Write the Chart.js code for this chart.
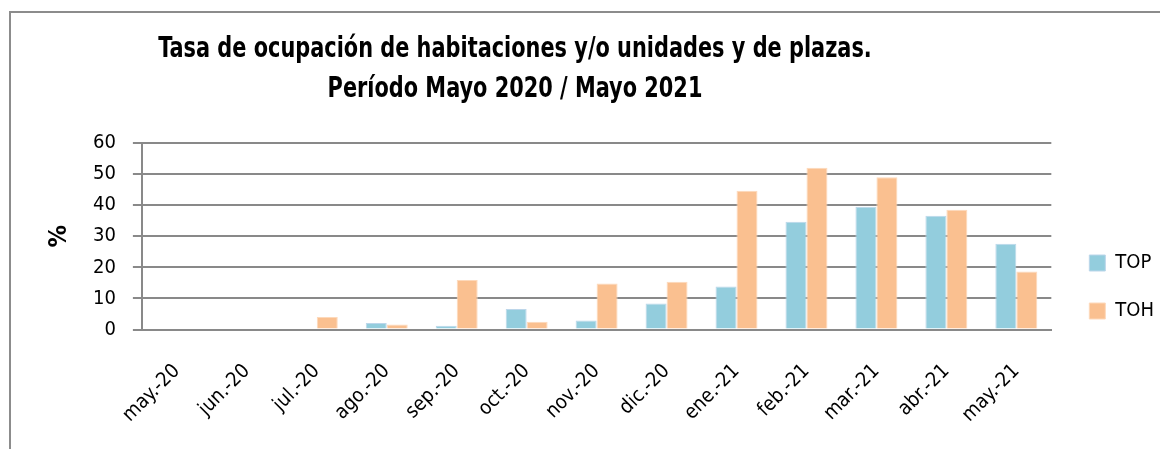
<!DOCTYPE html>
<html>
<head>
<meta charset="utf-8">
<script src="https://cdn.jsdelivr.net/npm/chart.js@4"></script>
<style>
    html, body { margin: 0; padding: 0; background: #fff; }
    #wrap { position: relative; width: 1160px; height: 449px; overflow: hidden; }
    #frame {
        position: absolute; left: 9px; top: 11px; right: -4px; bottom: -4px;
        border-left: 2px solid #8c8c8c; border-top: 2px solid #8c8c8c;
    }
    #title {
        position: absolute; left: 215px; width: 600px; top: 27px;
        text-align: center; font-family: 'DejaVu Sans Condensed', sans-serif;
        font-weight: bold; font-size: 29px; line-height: 40px; color: #000;
        white-space: nowrap; transform: scaleX(0.8);
    }
    #title div { margin-left: -200px; margin-right: -200px; }
    canvas { position: absolute; left: 0; top: 0; }
</style>
</head>
<body>
<div id="wrap">
    <canvas id="chart" width="1160" height="449"></canvas>
    <div id="frame"></div>
    <div id="title">
        <div>Tasa de ocupación de habitaciones y/o unidades y de plazas.</div>
        <div>Período Mayo 2020 / Mayo 2021</div>
    </div>
</div>
<script>
// Tasa de ocupación - TOP / TOH, mayo 2020 a mayo 2021

const meses = ['may.-20', 'jun.-20', 'jul.-20', 'ago.-20', 'sep.-20', 'oct.-20', 'nov.-20',
    'dic.-20', 'ene.-21', 'feb.-21', 'mar.-21', 'abr.-21', 'may.-21'];
const top_ = [0, 0, 0, 2.1, 1.2, 6.6, 2.9, 8.4, 13.8, 34.7, 39.5, 36.6, 27.6];
const toh = [0, 0, 4.0, 1.6, 15.9, 2.5, 14.8, 15.4, 44.6, 52.0, 49.0, 38.5, 18.7];
const yTicks = [0, 10, 20, 30, 40, 50, 60];

const fuente = "'DejaVu Sans Condensed', sans-serif";
const gris = '#898989';

// leyenda un poco separada del area del grafico y centrada mas arriba
const legendGap = {
    id: 'legendGap',
    afterLayout(chart) {
        const lg = chart.legend;
        if (!lg) return;
        lg.left = chart.chartArea.right + 10;
        lg.bottom = chart.height - 18;
    }
};

const ctx = document.getElementById('chart');

new Chart(ctx, {
    type: 'bar',
    data: {
        labels: meses,
        datasets: [
            {
                label: 'TOP',
                data: top_,
                backgroundColor: '#93cddd',
                borderColor: '#bcd6ea',
                borderWidth: 1
            },
            {
                label: 'TOH',
                data: toh,
                backgroundColor: '#fac090',
                borderColor: '#fdd9bb',
                borderWidth: 1
            }
        ]
    },
    options: {
        responsive: false,
        animation: false,
        maintainAspectRatio: false,
        layout: {
            padding: { top: 143, left: 44, right: 6, bottom: 0 }
        },
        datasets: {
            bar: { categoryPercentage: 0.6, barPercentage: 1.0 }
        },
        plugins: {
            legend: {
                position: 'right',
                labels: {
                    boxWidth: 16,
                    boxHeight: 16,
                    padding: 28,
                    color: '#000',
                    font: { family: fuente, size: 20 }
                }
            },
            tooltip: { enabled: false }
        },
        scales: {
            x: {
                grid: { display: false },
                border: { color: gris, width: 2 },
                ticks: {
                    maxRotation: 45,
                    minRotation: 45,
                    color: '#000',
                    padding: 22,
                    font: { family: fuente, size: 20 }
                }
            },
            y: {
                min: 0,
                max: 60,
                afterBuildTicks: (axis) => {
                    axis.ticks = yTicks.map(v => ({ value: v }));
                },
                title: {
                    display: true,
                    text: '%',
                    color: '#000',
                    padding: { top: 0, bottom: 2 },
                    font: { family: fuente, size: 25, weight: 'bold' }
                },
                grid: {
                    color: gris,
                    lineWidth: 2,
                    tickLength: 9
                },
                border: { color: gris, width: 2 },
                ticks: {
                    color: '#000',
                    padding: 17,
                    font: { family: fuente, size: 20 }
                }
            }
        }
    },
    plugins: [legendGap]
});
</script>
</body>
</html>
